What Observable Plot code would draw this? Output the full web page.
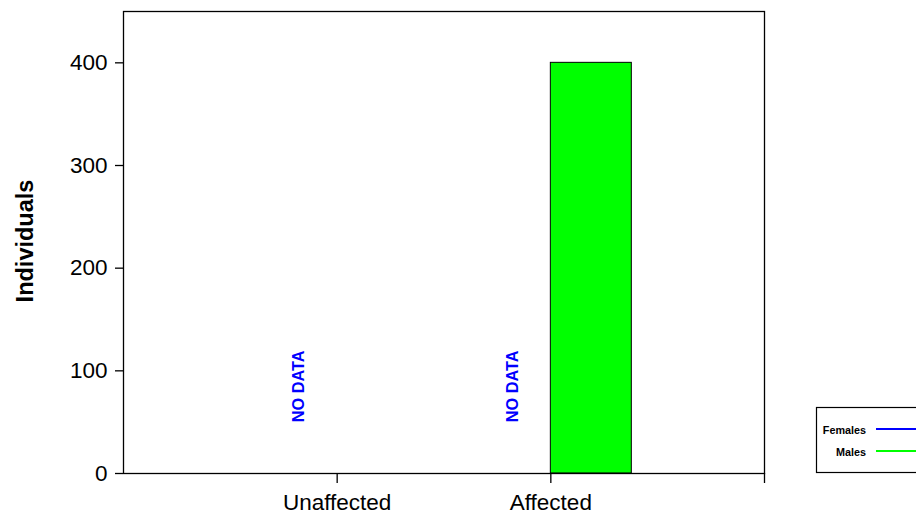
<!DOCTYPE html>
<html>
<head>
<meta charset="utf-8">
<script src="https://cdn.jsdelivr.net/npm/d3@7"></script>
<script src="https://cdn.jsdelivr.net/npm/@observablehq/plot@0.6"></script>
<style>
  html, body { margin: 0; padding: 0; background: #ffffff; }
  #chart { width: 916px; height: 515px; overflow: hidden; }
</style>
</head>
<body>
<div id="chart"></div>
<script>
const categories = ["Unaffected", "Affected"];
const sexes = ["Females", "Males"];
const femalesValues = [null, null];   // no data
const malesValues = [0, 400];
const yTicks = [0, 100, 200, 300, 400];
const xTickLabels = ["Unaffected", "Affected", ""];
const seriesColors = ["#0000ff", "#00ff00"];
const yLabel = "Individuals";
const noDataText = "NO DATA";

const rows = categories.flatMap((c, i) => [
  {cat: c, pos: i + 1, sex: "Females", value: femalesValues[i]},
  {cat: c, pos: i + 1, sex: "Males", value: malesValues[i]}
]);

const W = 0.379; // bar width in x units
const font = "'Liberation Sans', Arial, Helvetica, sans-serif";

const chart = Plot.plot({
  width: 916,
  height: 515,
  marginLeft: 123,
  marginRight: 152,
  marginTop: 11,
  marginBottom: 42,
  style: {fontFamily: font, background: "#ffffff", color: "#000000"},
  x: {domain: [0, 3]},
  y: {domain: [0, 450]},
  color: {domain: sexes, range: seriesColors},
  marks: [
    Plot.rectY(rows.filter(d => d.value != null && d.value > 0), {
      x1: d => d.sex === "Females" ? d.pos - W : d.pos,
      x2: d => d.sex === "Females" ? d.pos : d.pos + W,
      y1: 0,
      y2: "value",
      fill: "sex",
      stroke: "#000000",
      strokeWidth: 1
    }),
    Plot.text(rows.filter(d => d.value == null), {
      x: d => d.sex === "Females" ? d.pos - 0.178 : d.pos + 0.178,
      y: 50,
      text: () => noDataText,
      rotate: -90,
      textAnchor: "start",
      fill: d => seriesColors[sexes.indexOf(d.sex)],
      fontWeight: "bold",
      fontSize: 16.3
    }),
    Plot.frame({stroke: "#000000", strokeWidth: 1.3}),
    Plot.axisY({ticks: yTicks, tickSize: 8, tickPadding: 8, fontSize: 22.5, label: null, strokeWidth: 1.3}),
    Plot.axisX({ticks: [1, 2, 3], tickFormat: d => xTickLabels[d - 1], tickSize: 10, tickPadding: 11, fontSize: 22.5, label: null, strokeWidth: 1.3})
  ]
});

document.getElementById("chart").appendChild(chart);

// y-axis title and legend
const svg = d3.select(chart);
svg.append("text")
  .attr("transform", "translate(33,241) rotate(-90)")
  .attr("text-anchor", "middle")
  .attr("font-family", font)
  .attr("font-weight", "bold")
  .attr("font-size", 23.5)
  .attr("fill", "#000000")
  .text(yLabel);

const lg = svg.append("g");
lg.append("rect")
  .attr("x", 816.5).attr("y", 407.5)
  .attr("width", 130).attr("height", 65)
  .attr("fill", "#ffffff").attr("stroke", "#000000").attr("stroke-width", 1.2);
sexes.forEach((s, i) => {
  const yy = 429 + i * 22;
  lg.append("text")
    .attr("x", 866).attr("y", yy + 4.8)
    .attr("text-anchor", "end")
    .attr("font-family", font)
    .attr("font-weight", "bold")
    .attr("font-size", 10.8)
    .attr("fill", "#000000")
    .text(s);
  lg.append("line")
    .attr("x1", 876).attr("x2", 930)
    .attr("y1", yy).attr("y2", yy)
    .attr("stroke", seriesColors[i]).attr("stroke-width", 2.2);
});
</script>
</body>
</html>
